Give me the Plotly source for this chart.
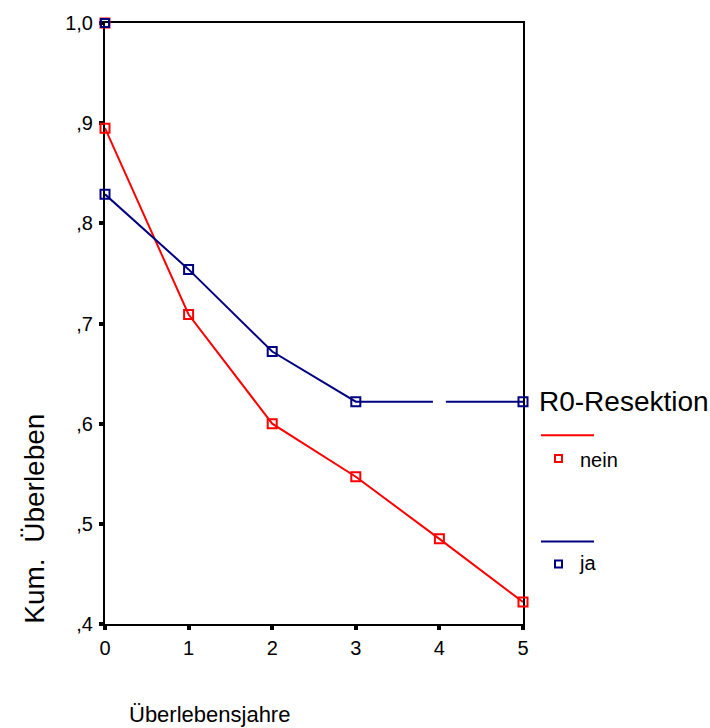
import plotly.graph_objects as go

years = [0, 1, 2, 3, 4, 5]
nein = [0.895, 0.709, 0.600, 0.547, 0.485, 0.422]
ja = [0.829, 0.754, 0.672, 0.622, 0.622, 0.622]
start_x = [0]
start_y = [1.0]
ytick_vals = [0.4, 0.5, 0.6, 0.7, 0.8, 0.9, 1.0]
ytick_text = [",4", ",5", ",6", ",7", ",8", ",9", "1,0"]
xtick_vals = [0, 1, 2, 3, 4, 5]
xtick_text = ["0", "1", "2", "3", "4", "5"]

RED = "#ff0000"
BLUE = "#000080"
FONT = "Liberation Sans, Arial, sans-serif"

fig = go.Figure()

# red series
fig.add_trace(go.Scatter(x=years, y=nein, mode="lines+markers",
                         line=dict(color=RED, width=2),
                         marker=dict(symbol="square-open", size=9, color=RED, line=dict(width=2)),
                         cliponaxis=False, showlegend=False))
# blue series line
fig.add_trace(go.Scatter(x=years, y=ja, mode="lines",
                         line=dict(color=BLUE, width=2),
                         cliponaxis=False, showlegend=False))
# white gap at x=4
fig.add_trace(go.Scatter(x=[years[4]], y=[ja[4]], mode="markers",
                         marker=dict(symbol="square", size=13, color="white", line=dict(width=0)),
                         cliponaxis=False, showlegend=False))
# blue markers (excluding x=4)
bx = [years[i] for i in range(6) if i != 4]
by = [ja[i] for i in range(6) if i != 4]
fig.add_trace(go.Scatter(x=bx, y=by, mode="markers",
                         marker=dict(symbol="square-open", size=9, color=BLUE, line=dict(width=2)),
                         cliponaxis=False, showlegend=False))
# start points
fig.add_trace(go.Scatter(x=start_x, y=start_y, mode="markers",
                         marker=dict(symbol="square-open", size=9, color=RED, line=dict(width=2)),
                         cliponaxis=False, showlegend=False))
fig.add_trace(go.Scatter(x=start_x, y=start_y, mode="markers",
                         marker=dict(symbol="square-open", size=8, color=BLUE, line=dict(width=2)),
                         cliponaxis=False, showlegend=False))

L, R, T, B = 105, 187, 19, 104
W, H = 710, 728
pw = W - L - R
ph = H - T - B

def px(x):
    return (x - L) / pw

def py(y):
    return (H - B - y) / ph

shapes = []
# legend lines
shapes.append(dict(type="line", xref="paper", yref="paper", x0=px(541), x1=px(594),
                   y0=py(434), y1=py(434), line=dict(color=RED, width=2)))
shapes.append(dict(type="line", xref="paper", yref="paper", x0=px(541), x1=px(594),
                   y0=py(541), y1=py(541), line=dict(color=BLUE, width=2)))
# legend markers
shapes.append(dict(type="rect", xref="paper", yref="paper", x0=px(555), x1=px(562),
                   y0=py(461), y1=py(454), line=dict(color=RED, width=2)))
shapes.append(dict(type="rect", xref="paper", yref="paper", x0=px(555), x1=px(562),
                   y0=py(567), y1=py(560), line=dict(color=BLUE, width=2)))

annotations = [
    dict(text="R0-Resektion", xref="paper", yref="paper", x=px(537), y=py(400),
         xanchor="left", yanchor="middle", showarrow=False,
         font=dict(family=FONT, size=28, color="black")),
    dict(text="nein", xref="paper", yref="paper", x=px(578), y=py(459),
         xanchor="left", yanchor="middle", showarrow=False,
         font=dict(family=FONT, size=20, color="black")),
    dict(text="ja", xref="paper", yref="paper", x=px(577), y=py(563),
         xanchor="left", yanchor="middle", showarrow=False,
         font=dict(family=FONT, size=20, color="black")),
    dict(text="Überlebensjahre", xref="paper", yref="paper", x=px(209), y=py(715),
         xanchor="center", yanchor="middle", showarrow=False,
         font=dict(family=FONT, size=22, color="black")),
    dict(text="Kum.  Überleben", xref="paper", yref="paper", x=px(35), y=py(518),
         xanchor="center", yanchor="middle", showarrow=False, textangle=-90,
         font=dict(family=FONT, size=28, color="black")),
]

fig.update_layout(
    width=W, height=H,
    margin=dict(l=L, r=R, t=T, b=B),
    paper_bgcolor="white", plot_bgcolor="white",
    shapes=shapes, annotations=annotations,
    font=dict(family=FONT, size=20, color="black"),
)
fig.update_xaxes(range=[0, 5], tickvals=xtick_vals, ticktext=xtick_text,
                 showgrid=False, zeroline=False, showline=True, mirror=True,
                 linecolor="black", linewidth=2, ticks="outside", ticklen=4,
                 tickwidth=4, tickcolor="black", layer="below traces",
                 ticklabelstandoff=1, tickfont=dict(size=20))
fig.update_yaxes(range=[0.4, 1.0], tickvals=ytick_vals, ticktext=ytick_text,
                 showgrid=False, zeroline=False, showline=True, mirror=True,
                 linecolor="black", linewidth=2, ticks="outside", ticklen=4,
                 tickwidth=4, tickcolor="black", layer="below traces",
                 ticklabelstandoff=2, tickfont=dict(size=20))

fig.write_html("out.html")
